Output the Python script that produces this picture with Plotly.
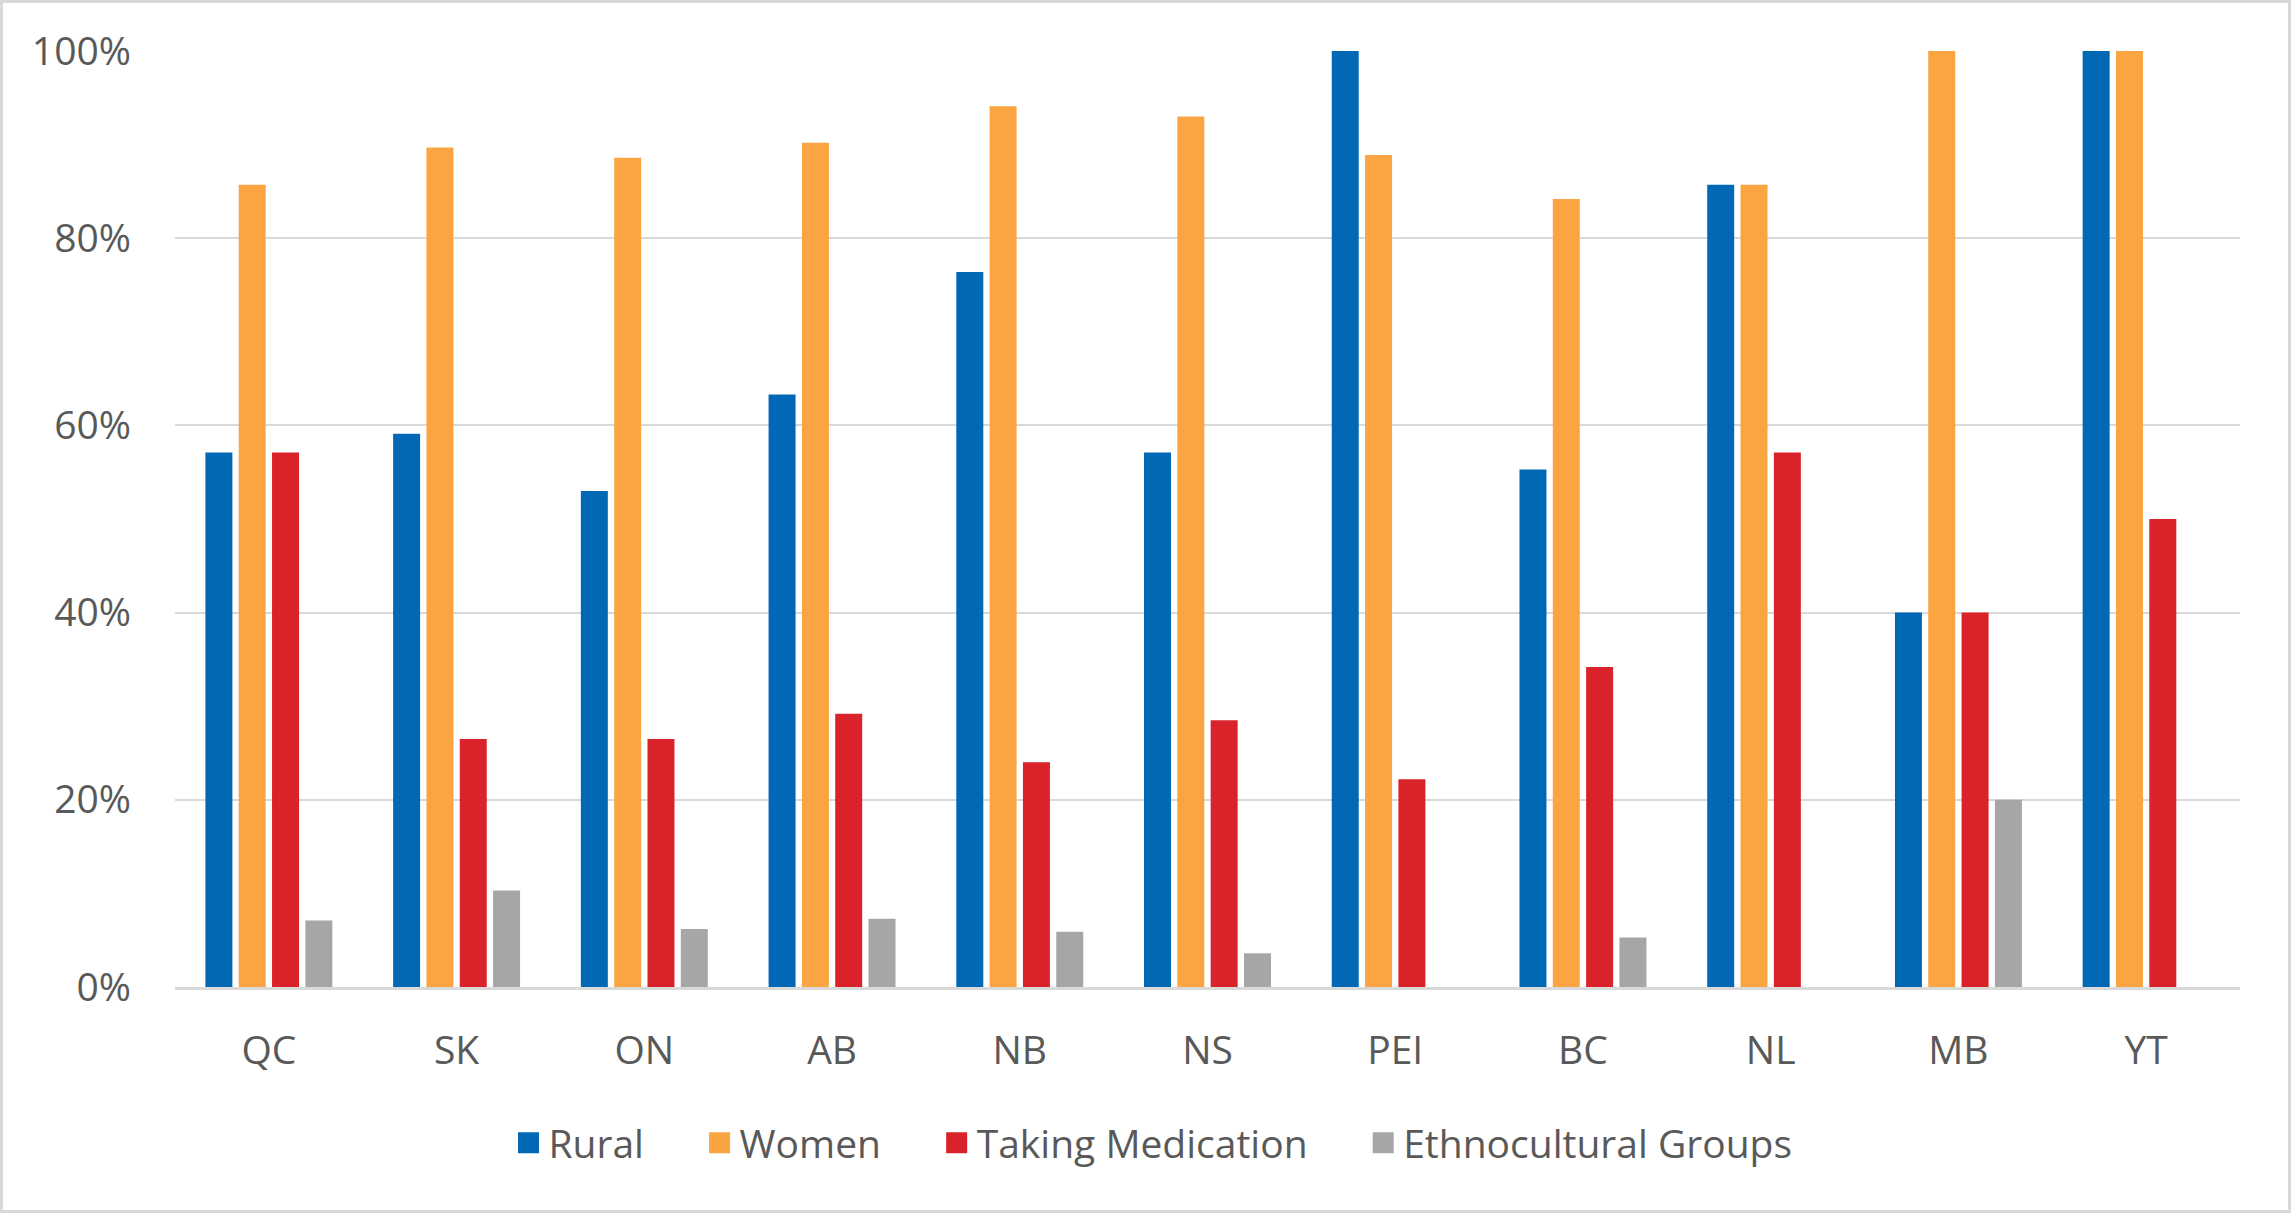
import plotly.graph_objects as go

categories = ["QC", "SK", "ON", "AB", "NB", "NS", "PEI", "BC", "NL", "MB", "YT"]
rural = [0.571, 0.591, 0.530, 0.633, 0.764, 0.571, 1.000, 0.553, 0.857, 0.400, 1.000]
women = [0.857, 0.897, 0.886, 0.902, 0.941, 0.930, 0.889, 0.842, 0.857, 1.000, 1.000]
medication = [0.571, 0.265, 0.265, 0.292, 0.240, 0.285, 0.222, 0.342, 0.571, 0.400, 0.500]
ethno = [0.071, 0.103, 0.062, 0.073, 0.059, 0.036, 0.0, 0.053, 0.0, 0.200, 0.0]

series_names = ["Rural", "Women", "Taking Medication", "Ethnocultural Groups"]
series_values = [rural, women, medication, ethno]
series_colors = ["#0068B5", "#FAA541", "#D9222A", "#A6A6A6"]

W, H = 2291, 1213
ml, mr, mt, mb = 175, 51, 51, 226
pw, ph = W - ml - mr, H - mt - mb
font = "Open Sans"
txt = "#595959"
fs = 39
pad = "\u00a0" * 5

fig = go.Figure()
for name, vals, color in zip(series_names, series_values, series_colors):
    fig.add_trace(go.Bar(
        name=name, x=categories, y=vals,
        marker=dict(color=color, line=dict(width=0)),
        showlegend=False,
    ))
for i, (name, color) in enumerate(zip(series_names, series_colors)):
    label = name + (pad if i < len(series_names) - 1 else "")
    fig.add_trace(go.Scatter(
        name=label, x=[None], y=[None], mode="markers",
        marker=dict(symbol="square", size=16, color=color, line=dict(color=color, width=5)),
        showlegend=True,
    ))

fig.update_layout(
    width=W, height=H,
    margin=dict(l=ml, r=mr, t=mt, b=mb, pad=0),
    paper_bgcolor="white", plot_bgcolor="white",
    font=dict(family=font, size=fs, color=txt),
    barmode="group", bargap=0.29, bargroupgap=0.19,
    legend=dict(orientation="h", x=(1153 - ml) / pw, xanchor="center",
                y=(mt + ph - 1143) / ph, yanchor="middle",
                font=dict(size=fs, color=txt), itemwidth=30, bgcolor="rgba(0,0,0,0)"),
    xaxis=dict(showgrid=False, showline=True, linecolor="#D9D9D9", linewidth=3,
               ticks="", ticklabelstandoff=27, tickfont=dict(size=fs, color=txt)),
    yaxis=dict(range=[0, 1], dtick=0.2, tickformat=".0%", showgrid=True,
               gridcolor="#D9D9D9", gridwidth=2, zeroline=False, showline=False,
               ticks="", ticklabelstandoff=43, tickfont=dict(size=fs, color=txt)),
    shapes=[dict(type="rect", xref="paper", yref="paper",
                 x0=(-ml + 1.5) / pw, x1=1 + (mr - 1.5) / pw,
                 y0=(-mb + 1.5) / ph, y1=1 + (mt - 1.5) / ph,
                 line=dict(color="#D9D9D9", width=3), layer="below")],
)

fig.write_html("out.html", config={"displayModeBar": False},
               post_script="document.body.style.margin='0';")
